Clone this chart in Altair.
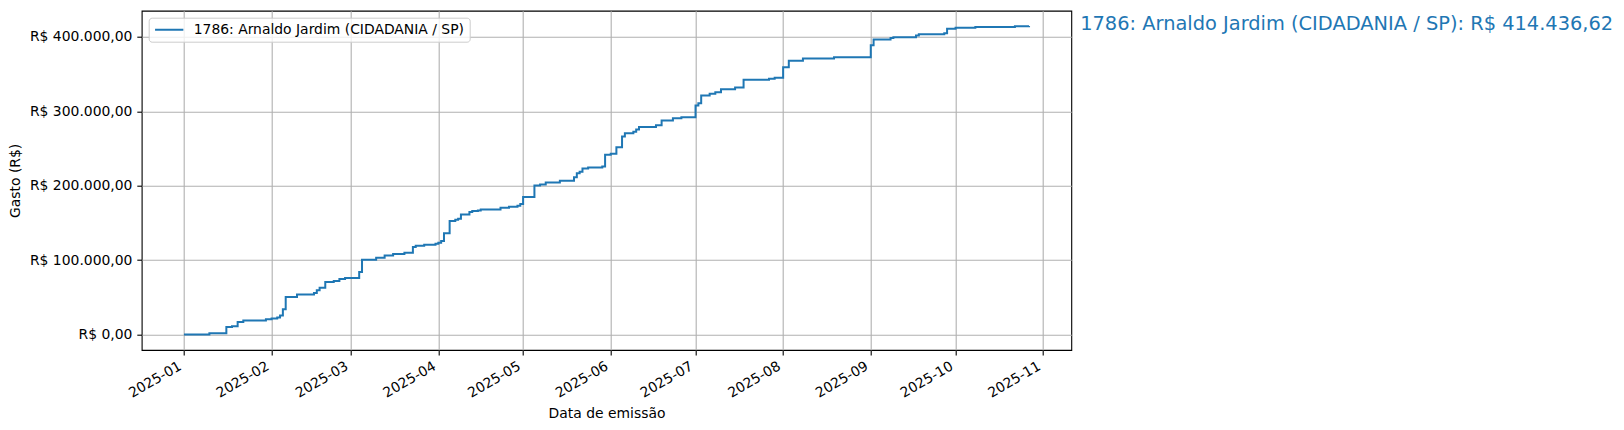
import altair as alt
import pandas as pd

nome = "1786: Arnaldo Jardim (CIDADANIA / SP)"

datas = [
    "2025-01-01", "2025-01-10", "2025-01-16", "2025-01-18", "2025-01-20", "2025-01-22",
    "2025-01-30", "2025-02-01", "2025-02-03", "2025-02-04", "2025-02-05", "2025-02-06",
    "2025-02-10", "2025-02-16", "2025-02-17", "2025-02-18", "2025-02-20", "2025-02-23",
    "2025-02-25", "2025-02-27", "2025-03-04", "2025-03-05", "2025-03-10", "2025-03-13",
    "2025-03-16", "2025-03-20", "2025-03-23", "2025-03-24", "2025-03-27", "2025-03-31",
    "2025-04-01", "2025-04-02", "2025-04-03", "2025-04-05", "2025-04-07", "2025-04-08",
    "2025-04-09", "2025-04-12", "2025-04-13", "2025-04-15", "2025-04-16", "2025-04-23",
    "2025-04-26", "2025-04-29", "2025-04-30", "2025-05-01", "2025-05-05", "2025-05-07",
    "2025-05-09", "2025-05-14", "2025-05-19", "2025-05-20", "2025-05-21", "2025-05-22",
    "2025-05-24", "2025-05-29", "2025-05-30", "2025-06-01", "2025-06-03", "2025-06-05",
    "2025-06-06", "2025-06-09", "2025-06-10", "2025-06-11", "2025-06-17", "2025-06-19",
    "2025-06-23", "2025-06-26", "2025-07-01", "2025-07-02", "2025-07-03", "2025-07-06",
    "2025-07-08", "2025-07-10", "2025-07-15", "2025-07-18", "2025-07-27", "2025-07-29",
    "2025-08-01", "2025-08-03", "2025-08-08", "2025-08-19", "2025-09-01", "2025-09-02",
    "2025-09-08", "2025-09-09", "2025-09-17", "2025-09-18", "2025-09-27", "2025-09-28",
    "2025-10-01", "2025-10-08", "2025-10-22", "2025-10-27",
]

gastos = [
    0, 1700, 10200, 11100, 17000, 18800,
    20500, 21500, 22800, 25500, 34000, 50500,
    53700, 55900, 59500, 63000, 70600, 72000,
    74600, 76000, 84000, 100600, 103300, 106400,
    108200, 110000, 117600, 119500, 120800, 122000,
    123500, 125600, 136000, 152500, 154400, 155700,
    161500, 164600, 165900, 166800, 168200, 170500,
    171800, 173200, 175300, 184700, 200400, 201700,
    204400, 206700, 211500, 216900, 218700, 223200,
    224600, 225900, 241600, 242900, 251800, 266200,
    270600, 272400, 275500, 278900, 281100, 287700,
    290500, 292100, 307800, 310900, 321200, 323500,
    325600, 329700, 331900, 342300, 343600, 345000,
    359200, 367800, 370900, 372600, 388700, 396600,
    398400, 399500, 401900, 403500, 405000, 410800,
    412200, 413300, 414200, 414436.62,
]

y_ticks = [0, 100000, 200000, 300000, 400000]
meses = list(range(1, 12))

df = pd.DataFrame({"data": datas, "gasto": gastos, "serie": [nome] * len(datas)})


def brl(v):
    s = f"{v:,.2f}".replace(",", "#").replace(".", ",").replace("#", ".")
    return "R$ " + s


anotacao = f"{nome}: {brl(gastos[-1])}"
txt_df = pd.DataFrame({"rotulo": [anotacao]})

# matplotlib-like 5% margins
t = pd.to_datetime(df["data"], utc=True)
t0 = t.min().value // 10**6
t1 = t.max().value // 10**6
span = t1 - t0
x_domain = [t0 - 0.05 * span, t1 + 0.05 * span]
vmax = max(gastos)
vmin = min(gastos)
vs = vmax - vmin
y_domain = [vmin - 0.05 * vs, vmax + 0.05 * vs]

FONT = "DejaVu Sans"
FS = 13.9
W = 929.6
H = 339.3

label_expr = (
    "'R$ ' + replace(replace(replace(format(datum.value, ',.2f'), "
    "regexp(',', 'g'), '#'), regexp('[.]', 'g'), ','), regexp('#', 'g'), '.')"
)

linha = alt.Chart(df).mark_line(interpolate="step-after", strokeWidth=2).encode(
    x=alt.X(
        "data:T",
        title="Data de emissão",
        scale=alt.Scale(type="utc", domain=x_domain, nice=False),
        axis=alt.Axis(
            values=[alt.DateTime(year=2025, month=m, date=1, utc=True) for m in meses],
            format="%Y-%m",
            labelAngle=330,
            labelAlign="right",
            labelBaseline="top",
            labelOffset=-7.5,
            labelPadding=4,
            titleY=63,
            titleBaseline="middle",
        ),
    ),
    y=alt.Y(
        "gasto:Q",
        title="Gasto (R$)",
        scale=alt.Scale(domain=y_domain, nice=False, zero=False),
        axis=alt.Axis(
            values=y_ticks,
            labelExpr=label_expr,
            labelPadding=4.9,
            titleX=-126.7,
            titleY=H / 2,
            titleAlign="center",
            titleBaseline="middle",
            titleAngle=270,
        ),
    ),
    color=alt.Color(
        "serie:N",
        scale=alt.Scale(range=["#1f77b4"]),
        legend=alt.Legend(
            title=None,
            orient="top-left",
            offset=7,
            padding=5,
            symbolType="stroke",
            symbolSize=800,
            symbolStrokeWidth=2,
            labelFont=FONT,
            labelFontSize=FS,
            labelColor="black",
            labelOffset=9,
            labelLimit=600,
            strokeColor="#cccccc",
            fillColor="rgba(255,255,255,0.8)",
            cornerRadius=3,
            clipHeight=14,
        ),
    ),
)

texto = alt.Chart(txt_df).mark_text(
    align="left", baseline="alphabetic", font=FONT, fontSize=19.4, color="#1f77b4"
).encode(x=alt.value(938.5), y=alt.value(19.3), text="rotulo:N")

chart = (
    alt.layer(linha, texto)
    .properties(
        width=W,
        height=H,
        autosize=alt.AutoSizeParams(type="none"),
        padding={"left": 133.7, "top": 2.7, "right": 1608 - 133.7 - W, "bottom": 414 - 2.7 - H},
    )
    .configure_view(stroke="black", strokeWidth=1.1)
    .configure_axis(
        labelFont=FONT,
        labelFontSize=FS,
        labelColor="black",
        titleFont=FONT,
        titleFontSize=FS,
        titleFontWeight="normal",
        titleColor="black",
        tickColor="black",
        tickWidth=1.1,
        tickSize=4.9,
        domain=False,
        grid=True,
        gridColor="#b0b0b0",
        gridWidth=1.1,
    )
)

chart.save("out.html", embed_options={"renderer": "svg", "actions": False})
